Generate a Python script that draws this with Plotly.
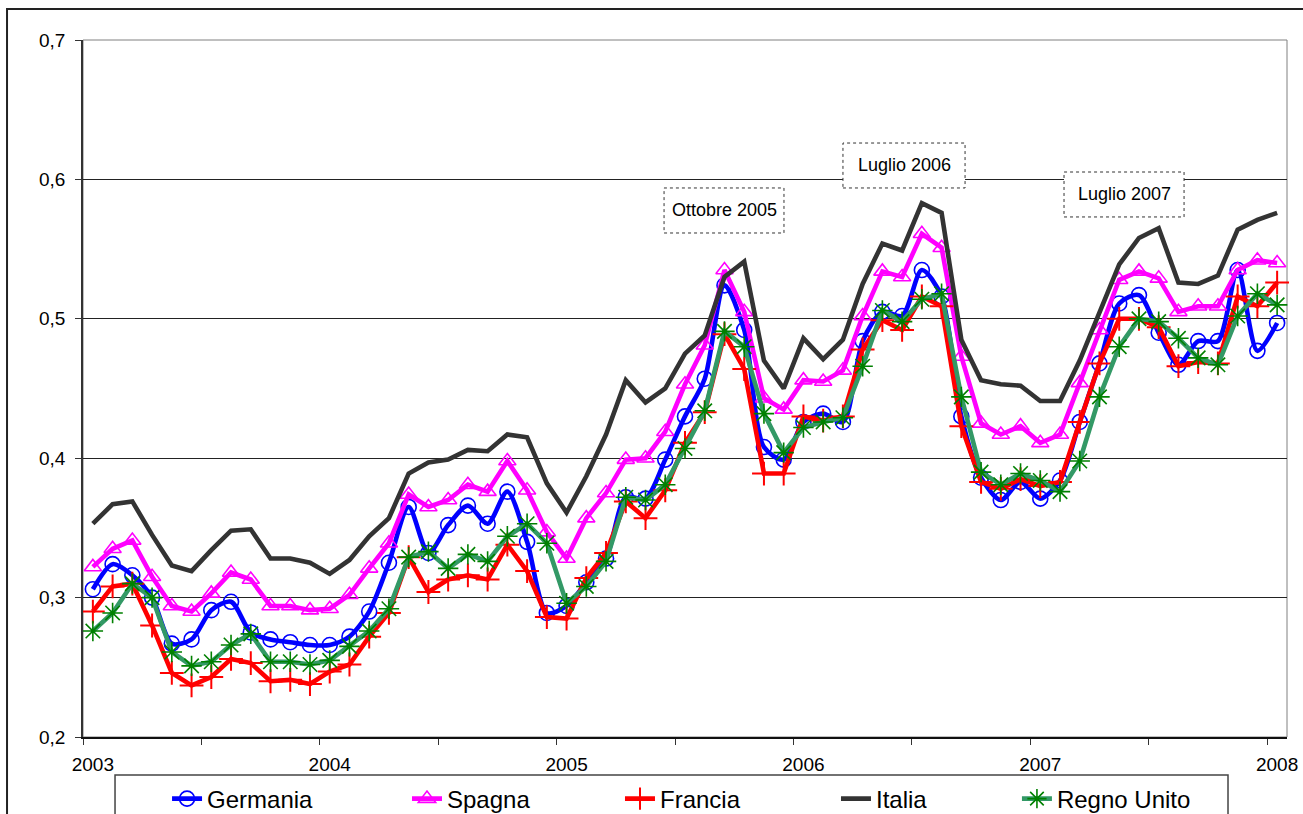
import plotly.graph_objects as go

# ---------------- data ----------------
months = [f"{y}-{m:02d}" for y in range(2003, 2008) for m in range(1, 13)] + ["2008-01"]

germania = [0.306, 0.324, 0.316, 0.300, 0.267, 0.270, 0.291, 0.297, 0.275, 0.270,
            0.268, 0.266, 0.266, 0.272, 0.290, 0.325, 0.365, 0.332, 0.352, 0.366,
            0.353, 0.376, 0.340, 0.289, 0.294, 0.311, 0.328, 0.372, 0.371, 0.399,
            0.430, 0.457, 0.524, 0.492, 0.408, 0.399, 0.426, 0.432, 0.426, 0.484,
            0.505, 0.502, 0.535, 0.516, 0.430, 0.386, 0.370, 0.383, 0.371, 0.384,
            0.426, 0.468, 0.511, 0.517, 0.490, 0.467, 0.484, 0.484, 0.535, 0.477,
            0.497]

spagna = [0.322, 0.335, 0.341, 0.315, 0.294, 0.290, 0.303, 0.318, 0.313, 0.294,
          0.294, 0.291, 0.292, 0.302, 0.321, 0.339, 0.374, 0.365, 0.370, 0.381,
          0.376, 0.398, 0.377, 0.347, 0.328, 0.357, 0.375, 0.399, 0.400, 0.419,
          0.453, 0.481, 0.535, 0.505, 0.443, 0.435, 0.456, 0.455, 0.463, 0.502,
          0.534, 0.530, 0.561, 0.551, 0.473, 0.425, 0.417, 0.423, 0.411, 0.417,
          0.454, 0.492, 0.528, 0.534, 0.529, 0.505, 0.509, 0.509, 0.535, 0.542,
          0.540]

francia = [0.290, 0.308, 0.310, 0.280, 0.246, 0.237, 0.243, 0.256, 0.253, 0.240,
           0.241, 0.238, 0.247, 0.252, 0.272, 0.289, 0.329, 0.304, 0.313, 0.316,
           0.313, 0.338, 0.319, 0.286, 0.285, 0.314, 0.332, 0.369, 0.357, 0.377,
           0.411, 0.433, 0.489, 0.464, 0.389, 0.389, 0.430, 0.427, 0.430, 0.478,
           0.499, 0.492, 0.516, 0.509, 0.423, 0.383, 0.378, 0.385, 0.380, 0.383,
           0.426, 0.468, 0.500, 0.500, 0.494, 0.466, 0.469, 0.468, 0.516, 0.509,
           0.526]

italia = [0.353, 0.367, 0.369, 0.345, 0.323, 0.319, 0.334, 0.348, 0.349, 0.328,
          0.328, 0.325, 0.317, 0.327, 0.344, 0.357, 0.389, 0.397, 0.399, 0.406,
          0.405, 0.417, 0.415, 0.382, 0.361, 0.387, 0.417, 0.456, 0.440, 0.450,
          0.475, 0.488, 0.530, 0.541, 0.470, 0.450, 0.486, 0.471, 0.485, 0.525,
          0.554, 0.549, 0.583, 0.576, 0.485, 0.456, 0.453, 0.452, 0.441, 0.441,
          0.470, 0.505, 0.539, 0.558, 0.565, 0.526, 0.525, 0.531, 0.564, 0.571,
          0.576]

regno_unito = [0.276, 0.289, 0.310, 0.300, 0.261, 0.251, 0.254, 0.266, 0.274, 0.254,
               0.254, 0.252, 0.255, 0.265, 0.276, 0.292, 0.329, 0.333, 0.321, 0.331,
               0.326, 0.344, 0.353, 0.339, 0.296, 0.308, 0.326, 0.372, 0.370, 0.381,
               0.407, 0.434, 0.491, 0.480, 0.432, 0.404, 0.422, 0.426, 0.429, 0.466,
               0.506, 0.498, 0.514, 0.518, 0.444, 0.390, 0.381, 0.389, 0.384, 0.376,
               0.398, 0.444, 0.480, 0.500, 0.498, 0.486, 0.472, 0.467, 0.502, 0.518,
               0.510]

series_names = ["Germania", "Spagna", "Francia", "Italia", "Regno Unito"]
annotation_texts = ["Ottobre 2005", "Luglio 2006", "Luglio 2007"]

# ---------------- figure ----------------
FONT = "Liberation Sans, Arial, sans-serif"
x = list(range(len(months)))
tickvals = [i for i, m in enumerate(months) if m.endswith("-01")]
ticktext = [months[i][:4] for i in tickvals]

LW = 4.6
styles = {
    "Germania": dict(line=dict(color="#0000FF", width=LW, shape="spline", smoothing=0.8),
                     marker=dict(symbol="circle-open", size=15, color="#0000FF",
                                 line=dict(width=1.6, color="#0000FF")),
                     mode="lines+markers"),
    "Spagna": dict(line=dict(color="#FF00FF", width=LW),
                   marker=dict(symbol="triangle-up-open", size=15, color="#FF00FF",
                               line=dict(width=1.6, color="#FF00FF")),
                   mode="lines+markers"),
    "Francia": dict(line=dict(color="#FF0000", width=LW),
                    marker=dict(symbol="cross-thin-open", size=17, color="#FF0000",
                                line=dict(width=2, color="#FF0000")),
                    mode="lines+markers"),
    "Italia": dict(line=dict(color="#333333", width=LW), mode="lines"),
    "Regno Unito": dict(line=dict(color="#339966", width=LW),
                        marker=dict(symbol="asterisk-open", size=17, color="#008000",
                                    line=dict(width=1.6, color="#008000")),
                        mode="lines+markers"),
}
values = {"Germania": germania, "Spagna": spagna, "Francia": francia,
          "Italia": italia, "Regno Unito": regno_unito}

legend_ids = ["legend", "legend2", "legend3", "legend4", "legend5"]
legend_x = [0.0698, 0.2691, 0.4460, 0.6254, 0.7757]

fig = go.Figure()
for name, lid in zip(series_names, legend_ids):
    fig.add_trace(go.Scatter(x=x, y=values[name], name=name, legend=lid,
                             showlegend=True, cliponaxis=False, **styles[name]))

legend_common = dict(y=-0.089, xanchor="left", yanchor="middle", orientation="h",
                     font=dict(size=24, family=FONT, color="black"),
                     bgcolor="rgba(0,0,0,0)", borderwidth=0)
legends = {lid: dict(x=lx, **legend_common) for lid, lx in zip(legend_ids, legend_x)}

shapes = [
    # plot-area border (grey)
    dict(type="rect", xref="paper", yref="paper", x0=0, x1=1, y0=0, y1=1,
         line=dict(color="#808080", width=1), layer="below"),
    # outer chart frame
    dict(type="rect", xref="paper", yref="paper", x0=-0.0631, x1=1.05, y0=-0.25, y1=1.0445,
         line=dict(color="#222222", width=2), layer="below"),
    # legend box
    dict(type="rect", xref="paper", yref="paper", x0=0.0266, x1=0.951, y0=-0.25, y1=-0.0545,
         line=dict(color="#444444", width=1.5), layer="below"),
]
boxes = [(0.4826, 0.5822, 0.7231, 0.7877),
         (0.6312, 0.7326, 0.7877, 0.8522),
         (0.8148, 0.9145, 0.7461, 0.8106)]
annotations = []
for (x0, x1, y0, y1), txt in zip(boxes, annotation_texts):
    shapes.append(dict(type="rect", xref="paper", yref="paper", x0=x0, x1=x1, y0=y0, y1=y1,
                       line=dict(color="#333333", width=1, dash="dot"),
                       fillcolor="white", layer="above"))
    annotations.append(dict(xref="paper", yref="paper", x=(x0 + x1) / 2, y=(y0 + y1) / 2,
                            text=txt, showarrow=False, xanchor="center", yanchor="middle",
                            font=dict(size=18, family=FONT, color="black")))

fig.update_layout(
    width=1303, height=814, autosize=False,
    margin=dict(l=83, r=16, t=40, b=77, autoexpand=False),
    paper_bgcolor="white", plot_bgcolor="white",
    separators=",.",
    showlegend=True,
    font=dict(family=FONT, size=19, color="black"),
    shapes=shapes, annotations=annotations,
    **legends,
)
fig.update_xaxes(range=[-0.5, len(months) - 0.5], tickmode="array", tickvals=tickvals,
                 ticktext=ticktext, ticks="", ticklabelstandoff=9,
                 showgrid=False, zeroline=False,
                 showline=True, linecolor="#111111", linewidth=1.5,
                 tickfont=dict(size=19, family=FONT, color="black"),
                 minor=dict(tick0=-0.5, dtick=6, ticks="outside", ticklen=6,
                            tickcolor="#333333", tickwidth=1, showgrid=False))
fig.update_yaxes(range=[0.2, 0.7], dtick=0.1, tick0=0.2, tickformat=".1f",
                 ticks="outside", ticklen=6, tickcolor="#333333", tickwidth=1,
                 ticklabelstandoff=6,
                 showgrid=True, gridcolor="#222222", gridwidth=1, zeroline=False,
                 showline=True, linecolor="#333333", linewidth=1.5,
                 tickfont=dict(size=19, family=FONT, color="black"))

fig.write_html("out.html", config={"displayModeBar": False},
               post_script="document.body.style.margin='0';document.body.style.overflow='hidden';")
